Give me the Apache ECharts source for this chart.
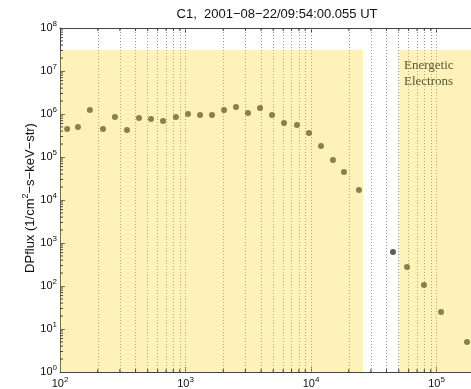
<!DOCTYPE html>
<html>
<head>
<meta charset="utf-8">
<script src="https://cdn.jsdelivr.net/npm/echarts@6/dist/echarts.min.js"></script>
<style>html,body{margin:0;padding:0;background:#fff}#c{width:471px;height:389px}</style>
</head>
<body>
<div id="c"></div>
<script>
// Energy (eV) and differential particle flux
const energies = [114,139,173,220,274,342,426,531,662,839,1047,1306,1626,2028,2525,3148,3925,4890,6095,7730,9640,12020,14970,18300,24100,45000,58200,79500,108600,175000];
const fluxes = [4.48e5,4.99e5,1.24e6,4.48e5,8.5e5,4.25e5,8.07e5,7.66e5,6.88e5,8.5e5,1.0e6,9.5e5,9.5e5,1.24e6,1.46e6,1.05e6,1.38e6,9.5e5,6.18e5,5.55e5,3.61e5,1.80e5,8.5e4,4.48e4,1.71e4,618,277,105,24.8,4.99];
// shaded bands: [xStart, xEnd]
const bandX = [[100, 26000], [50000, 1000000]];
const bandTop = 3.1e7;
const xRange = [100, 1000000];
const yRange = [1, 1e8];
const titleText = 'C1,  2001\u221208\u221222/09:54:00.055 UT';
const bandLabel = ['Energetic', 'Electrons'];

// dotted vertical grid at 2..9 x 10^n and decades
const xGrid = [];
for (let d = 100; d < 1000000; d *= 10) { for (let m = 2; m <= 10; m++) xGrid.push(d * m); }
const xMinor = [];
for (let d = 100; d < 1000000; d *= 10) { for (let m = 2; m <= 9; m++) xMinor.push(d * m); }
const yMinor = [];
for (let d = 1; d < 1e8; d *= 10) { for (let m = 2; m <= 9; m++) yMinor.push(d * m); }

const chart = echarts.init(document.getElementById('c'), null, {renderer: 'canvas'});
const axisColor = '#444';
const supLabel = v => '{b|10}{s|' + Math.round(Math.log10(v)) + '}';
const richLab = {
  b: {fontSize: 11, fontFamily: 'Liberation Sans', color: '#111'},
  s: {fontSize: 8, fontFamily: 'Liberation Sans', color: '#111', padding: [0, 0, 8, 0]}
};

chart.setOption({
  animation: false,
  backgroundColor: '#fff',
  grid: {left: 60, top: 28, width: 502, height: 344, containLabel: false, outerBoundsMode: 'none'},
  xAxis: [{
    type: 'log', logBase: 10, min: xRange[0], max: xRange[1], splitNumber: 4,
    axisLine: {show: true, lineStyle: {color: axisColor, width: 1}},
    axisTick: {show: true, inside: true, length: 5, lineStyle: {color: axisColor}},
    axisLabel: {formatter: supLabel, rich: richLab, margin: 4},
    splitLine: {show: false}
  }, {
    type: 'log', logBase: 10, min: xRange[0], max: xRange[1], splitNumber: 4, position: 'top',
    axisLine: {show: true, lineStyle: {color: axisColor, width: 1}},
    axisTick: {show: true, inside: true, length: 5, lineStyle: {color: axisColor}},
    axisLabel: {show: false}, splitLine: {show: false}
  }],
  yAxis: {
    type: 'log', logBase: 10, min: yRange[0], max: yRange[1], splitNumber: 8,
    axisLine: {show: true, lineStyle: {color: axisColor, width: 1}},
    axisTick: {show: true, inside: true, length: 5, lineStyle: {color: axisColor}},
    axisLabel: {formatter: supLabel, rich: richLab, margin: 3},
    splitLine: {show: false}
  },
  series: [
    {
      type: 'line', data: [], z: 1, silent: true,
      markLine: {
        silent: true, symbol: 'none', animation: false, z: 1,
        label: {show: false},
        lineStyle: {color: '#959595', type: [1, 2], width: 1},
        data: xGrid.map(v => ({xAxis: v}))
      }
    },
    {
      type: 'scatter', z: 2, data: energies.map((e, i) => [e, fluxes[i]]),
      symbol: 'circle', symbolSize: 6,
      itemStyle: {color: '#333'}
    },
    {
      type: 'line', data: [], z: 5, silent: true,
      markArea: {
        silent: true, animation: false, z: 5,
        itemStyle: {color: 'rgba(248,212,25,0.3)'},
        data: bandX.map(b => [{coord: [b[0], yRange[0]]}, {coord: [b[1], bandTop]}])
      }
    },
    {
      type: 'custom', z: 6, silent: true,
      data: xMinor.map(v => [v, yRange[0]]),
      renderItem: (params, api) => {
        const cs = params.coordSys;
        const p = api.coord([api.value(0), api.value(1)]);
        return {type: 'group', children: [
          {type: 'line', shape: {x1: p[0], y1: cs.y + cs.height, x2: p[0], y2: cs.y + cs.height - 3}, style: {stroke: axisColor, lineWidth: 1}},
          {type: 'line', shape: {x1: p[0], y1: cs.y, x2: p[0], y2: cs.y + 3}, style: {stroke: axisColor, lineWidth: 1}}
        ]};
      }
    },
    {
      type: 'custom', z: 6, silent: true,
      data: yMinor.map(v => [xRange[0], v]),
      renderItem: (params, api) => {
        const cs = params.coordSys;
        const p = api.coord([api.value(0), api.value(1)]);
        return {type: 'line', shape: {x1: cs.x, y1: p[1], x2: cs.x + 3, y2: p[1]}, style: {stroke: axisColor, lineWidth: 1}};
      }
    }
  ],
  graphic: [
    {type: 'text', x: 277, y: 14, z: 10,
     style: {text: titleText, font: '13px "Liberation Sans"', fill: '#111', textAlign: 'center', textVerticalAlign: 'middle'}},
    {type: 'text', x: 30, y: 198, rotation: Math.PI / 2, z: 10,
     style: {text: '{n|DPflux (1/cm}{s|2}{n|\u2212s\u2212keV\u2212str)}', textAlign: 'center', textVerticalAlign: 'middle',
       rich: {n: {fontSize: 13, fontFamily: 'Liberation Sans', fill: '#111'},
              s: {fontSize: 9, fontFamily: 'Liberation Sans', fill: '#111', padding: [0, 0, 8, 0]}}}},
    {type: 'text', x: 404, y: 58, z: 10,
     style: {text: bandLabel.join('\n'), font: '13px "Liberation Serif"', fill: '#5a5538', lineHeight: 16, textAlign: 'left', textVerticalAlign: 'top'}}
  ]
});
</script>
</body>
</html>
